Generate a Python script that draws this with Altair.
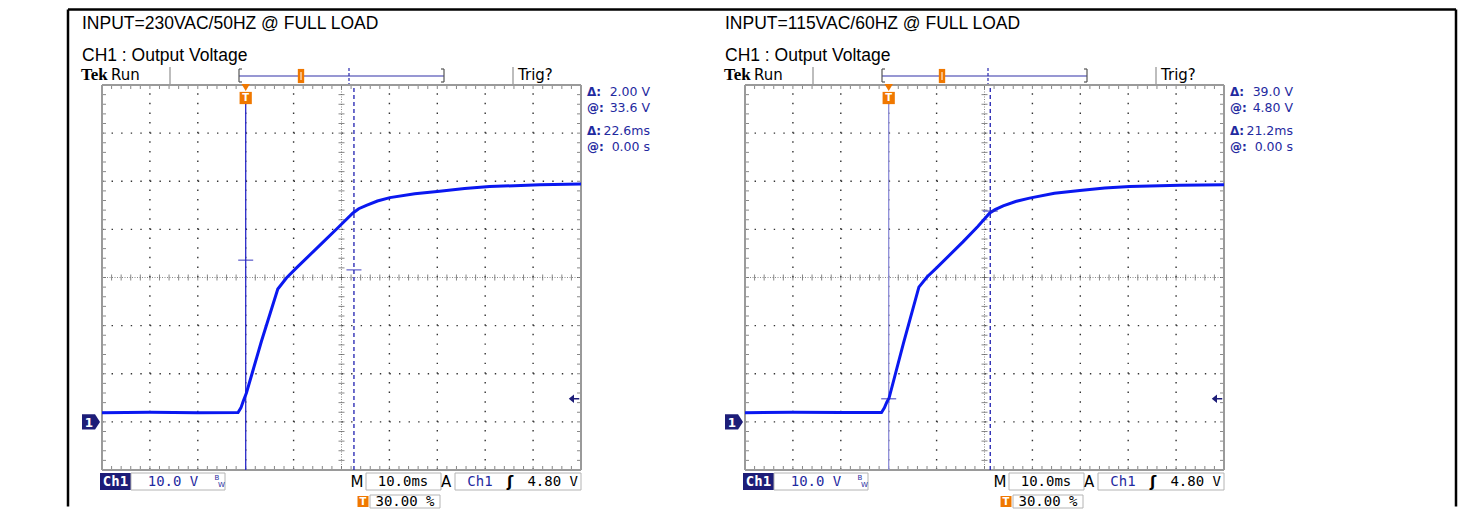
import altair as alt
import pandas as pd

# ---------------- values ----------------
panel_titles = ["INPUT=230VAC/50HZ @ FULL LOAD", "INPUT=115VAC/60HZ @ FULL LOAD"]
channel_title = "CH1 : Output Voltage"

# Ch1 trace: time in ms (0 = trigger point), output voltage in V
left_t = [-30, -20, -10, -1.6, -1.0, -0.5, 0.15, 3.3, 6.7, 8.5, 10.6, 16.1, 19.3, 22.4, 23.6, 25.2, 27.5, 30.1, 35.3, 40.5, 45.7, 50.9, 61.4, 70]
left_v = [1.9, 2.0, 1.9, 1.95, 2.9, 4.35, 6.0, 16.8, 27.6, 29.9, 32.0, 37.3, 40.4, 43.4, 44.3, 45.0, 45.9, 46.6, 47.4, 47.9, 48.5, 48.9, 49.25, 49.45]
right_t = [-30, -20, -10, -1.5, -0.9, -0.4, 0.06, 3.1, 6.3, 8.0, 10.0, 15.5, 18.6, 21.1, 22.2, 23.9, 26.5, 29.4, 34.6, 39.9, 45.1, 50.3, 60.8, 70]
right_v = [1.9, 2.0, 1.95, 1.95, 2.9, 4.1, 4.9, 16.4, 28.0, 30.1, 32.0, 37.4, 40.6, 43.4, 44.1, 44.9, 45.8, 46.5, 47.5, 48.1, 48.6, 48.9, 49.15, 49.25]

cursor_t1 = [0.0, 0.0]
cursor_t2 = [22.6, 21.2]
cursor_v1 = [33.6, 4.80]
cursor_v2 = [31.6, 43.8]
readout_labels = ["\u0394:", "@:", "\u0394:", "@:"]
readout_values = [["2.00 V", "33.6 V", "22.6ms", "0.00 s"],
                  ["39.0 V", "4.80 V", "21.2ms", "0.00 s"]]
volts_div = "10.0 V"
time_div = "10.0ms"
trig_source = "Ch1"
trig_level_txt = "4.80 V"
trig_level = 4.80
trig_pos = "30.00 %"

# ---------------- layout (pixels relative to each graticule) ----------------
W, H = 479, 385
T_DOM = [-30, 70]     # 10 ms/div, trigger at 30 %
V_DOM = [-10, 70]     # 10 V/div, ground one division above bottom
SPACING = 164
BLUE_TXT = "#1f2aa0"
NAVY = "#1d1d78"
ORANGE = "#f07800"
TRACE = "#0a18f0"
MONO = "DejaVu Sans Mono"
SANS = "DejaVu Sans"
HEAD = "Liberation Sans, Arial, sans-serif"


def tp(px):
    return T_DOM[0] + px * (T_DOM[1] - T_DOM[0]) / W


def vp(py):
    return V_DOM[1] - py * (V_DOM[1] - V_DOM[0]) / H


XS = alt.Scale(domain=T_DOM, nice=False, zero=False)
YS = alt.Scale(domain=V_DOM, nice=False, zero=False)


def enc(ch, x2=False, y2=False, **extra):
    e = dict(x=alt.X("t", type="quantitative", scale=XS, axis=None),
             y=alt.Y("v", type="quantitative", scale=YS, axis=None))
    if x2:
        e["x2"] = alt.X2("t2")
    if y2:
        e["y2"] = alt.Y2("v2")
    e.update(extra)
    return ch.encode(**e)


def text_px(items, **style):
    df = pd.DataFrame([{"t": tp(a), "v": vp(b), "label": s} for a, b, s in items])
    return enc(alt.Chart(df).mark_text(**style), text=alt.Text("label:N"))


def rect_px(boxes, **style):
    df = pd.DataFrame([{"t": tp(a), "v": vp(b), "t2": tp(c), "v2": vp(d)} for a, b, c, d in boxes])
    return enc(alt.Chart(df).mark_rect(**style), x2=True, y2=True)


def rule_px(lines, **style):
    df = pd.DataFrame([{"t": tp(a), "v": vp(b), "t2": tp(c), "v2": vp(d)} for a, b, c, d in lines])
    return enc(alt.Chart(df).mark_rule(**style), x2=True, y2=True)


def rule_data(lines, **style):
    df = pd.DataFrame([{"t": a, "v": b, "t2": c, "v2": d} for a, b, c, d in lines])
    return enc(alt.Chart(df).mark_rule(**style), x2=True, y2=True)


def point_at(pts, **style):
    df = pd.DataFrame([{"t": a, "v": b} for a, b in pts])
    return enc(alt.Chart(df).mark_point(**style))


def ticks_at(pts, **style):
    df = pd.DataFrame([{"t": a, "v": b} for a, b in pts])
    return enc(alt.Chart(df).mark_tick(**style))


orange_bar_x = [199, 197]
dash_bar_x = [247, 243]
solid_cursor_col = ["#2a2ac8", "#8c8cd8"]


def panel(i):
    L = []
    tr_t, tr_v = (left_t, left_v) if i == 0 else (right_t, right_v)
    if i == 0:
        L.append(rect_px([(-94, -77, 1355, 423)], color="white"))
        L.append(rule_px([(-34, -75.5, -34, 421.5), (1354, -75.5, 1354, 421.5), (-34, -75.5, 1354, -75.5)],
                         color="black", strokeWidth=2.5))
    # headings
    L.append(text_px([(-20, -56, panel_titles[i]), (-20, -24, channel_title)],
                     font=HEAD, fontSize=17.5, align="left", baseline="alphabetic", color="black"))
    # status line above the graticule
    L.append(text_px([(-21, -5, "Tek")], font="Liberation Serif", fontWeight="bold", fontSize=17,
                     align="left", baseline="alphabetic", color="black"))
    L.append(text_px([(9, -5, "Run"), (416, -5, "Trig?")], font=SANS, fontSize=15,
                     align="left", baseline="alphabetic", color="black"))
    L.append(rule_px([(68, -18, 68, -1), (411, -18, 411, -1)], color="#bdbdbd", strokeWidth=2))
    L.append(rule_px([(137, -9, 342, -9)], color="#7474c4", strokeWidth=1.6))
    L.append(rule_px([(137, -16, 137, -3), (137, -16, 140, -16), (137, -3, 140, -3),
                      (342, -16, 342, -3), (339, -16, 342, -16), (339, -3, 342, -3)],
                     color="#555555", strokeWidth=1.2))
    L.append(rule_px([(dash_bar_x[i], -17, dash_bar_x[i], -1)], color="#2a2ab0", strokeWidth=1.2,
                     strokeDash=[3, 2]))
    L.append(point_at([(tp(orange_bar_x[i]), vp(-9))], shape="M-0.45,-1L0.45,-1L0.45,1L-0.45,1Z",
                      size=200, filled=True, color=ORANGE, opacity=1, strokeWidth=0))
    L.append(rule_px([(orange_bar_x[i], -13, orange_bar_x[i], -5)], color="white", strokeWidth=1))

    # graticule
    gt = [T_DOM[0] + 10 * k for k in range(1, 10) if k != 5]
    gv = [V_DOM[0] + 10 * k for k in range(1, 8) if k != 4]
    L.append(rule_data([(t, V_DOM[0], t, V_DOM[1]) for t in gt], color="#333333", strokeWidth=1.4,
                       strokeDash=[1.4, H / 40 - 1.4]))
    L.append(rule_data([(T_DOM[0], v, T_DOM[1], v) for v in gv], color="#333333", strokeWidth=1.4,
                       strokeDash=[1.4, W / 50 - 1.4]))
    tc, vc = 20, 30
    L.append(rule_data([(tc, V_DOM[0], tc, V_DOM[1]), (T_DOM[0], vc, T_DOM[1], vc)],
                       color="#8a8a8a", strokeWidth=1, strokeDash=[1, 1.5]))
    sub_t = [T_DOM[0] + 2 * k for k in range(51)]
    sub_v = [V_DOM[0] + 2 * k for k in range(41)]
    L.append(ticks_at([(t, vc) for t in sub_t], orient="vertical", size=6, thickness=1, color="#555555"))
    L.append(ticks_at([(tc, v) for v in sub_v], orient="horizontal", size=6, thickness=1, color="#555555"))
    L.append(ticks_at([(t, V_DOM[1]) for t in sub_t], orient="vertical", size=4, thickness=1,
                      color="#555555", yOffset=2))
    L.append(ticks_at([(t, V_DOM[0]) for t in sub_t], orient="vertical", size=4, thickness=1,
                      color="#555555", yOffset=-2))
    L.append(ticks_at([(T_DOM[0], v) for v in sub_v], orient="horizontal", size=4, thickness=1,
                      color="#555555", xOffset=2))
    L.append(ticks_at([(T_DOM[1], v) for v in sub_v], orient="horizontal", size=4, thickness=1,
                      color="#555555", xOffset=-2))
    L.append(rule_data([(T_DOM[0], V_DOM[0], T_DOM[1], V_DOM[0]), (T_DOM[0], V_DOM[1], T_DOM[1], V_DOM[1]),
                        (T_DOM[0], V_DOM[0], T_DOM[0], V_DOM[1]), (T_DOM[1], V_DOM[0], T_DOM[1], V_DOM[1])],
                       color="#9a9a9a", strokeWidth=2))

    # cursors
    L.append(rule_data([(cursor_t1[i], V_DOM[0], cursor_t1[i], vp(19))], color=solid_cursor_col[i], strokeWidth=1.3))
    L.append(rule_data([(cursor_t2[i], V_DOM[0], cursor_t2[i], V_DOM[1])], color="#2020b0", strokeWidth=1.3,
                       strokeDash=[4, 3]))
    # trace
    tr = pd.DataFrame({"t": tr_t, "v": tr_v})
    L.append(enc(alt.Chart(tr).mark_line(color=TRACE, strokeWidth=3)))
    # cursor level marks
    L.append(ticks_at([(cursor_t1[i], cursor_v1[i]), (cursor_t2[i], cursor_v2[i])], orient="horizontal",
                      size=15, thickness=1.3, color="#2424b8"))

    # trigger marker, ground marker, trigger level arrow
    L.append(point_at([(0, vp(2.5))], shape="triangle-down", size=70, filled=True, color=ORANGE,
                      opacity=1, strokeWidth=0))
    L.append(point_at([(0, vp(13))], shape="square", size=150, filled=True, color=ORANGE, opacity=1,
                      strokeWidth=0))
    L.append(enc(alt.Chart(pd.DataFrame({"t": [0], "v": [vp(13)], "label": ["T"]})).mark_text(
        font=SANS, fontWeight="bold", fontSize=10, color="white", baseline="middle", align="center"),
        text=alt.Text("label:N")))
    L.append(point_at([(tp(-11), 0)], shape="M-1,-0.85L0.45,-0.85L1,0L0.45,0.85L-1,0.85Z", size=324,
                      filled=True, color=NAVY, opacity=1, strokeWidth=0))
    L.append(text_px([(-13, 337.5, "1")], font=SANS, fontWeight="bold", fontSize=12, color="white",
                     align="center", baseline="middle"))
    L.append(point_at([(tp(472), trig_level)],
                      shape="M-1,0L0,-0.8L0,0.8Z M0,-0.15L1,-0.15L1,0.15L0,0.15Z", size=110,
                      filled=True, color=NAVY, opacity=1, strokeWidth=0))

    # cursor readouts
    rows = [7, 23, 46, 62]
    L.append(text_px([(485, y, s) for y, s in zip(rows, readout_labels)], font=SANS, fontSize=12,
                     fontWeight="bold", color=BLUE_TXT, align="left", baseline="middle"))
    L.append(text_px([(548, y, s) for y, s in zip(rows, readout_values[i])], font=SANS, fontSize=12.5,
                     color=BLUE_TXT, align="right", baseline="middle"))

    # bottom status bar
    L.append(rect_px([(-2, 388, 29, 405)], color=NAVY))
    L.append(rect_px([(29, 388, 123, 405), (264, 388, 339, 405), (353, 388, 479, 405), (268, 410, 338, 423)],
                     fill="white", stroke="#b4b4b4", strokeWidth=1))
    L.append(text_px([(13.5, 397, "Ch1")], font=MONO, fontWeight="bold", fontSize=14, color="white",
                     align="center", baseline="middle"))
    L.append(text_px([(71, 397, volts_div), (378, 397, trig_source)], font=MONO, fontSize=14,
                     color=BLUE_TXT, align="center", baseline="middle"))
    L.append(text_px([(115, 393, "B"), (119.5, 400, "W")], font=SANS, fontSize=7, color=BLUE_TXT,
                     align="center", baseline="middle"))
    L.append(text_px([(255, 397, "M"), (344, 397, "A")], font=SANS, fontSize=15, color="black",
                     align="center", baseline="middle"))
    L.append(text_px([(301, 397, time_div), (303, 416.5, trig_pos)], font=MONO, fontSize=14,
                     color="black", align="center", baseline="middle"))
    L.append(text_px([(476, 397, trig_level_txt)], font=MONO, fontSize=14, color="black",
                     align="right", baseline="middle"))
    L.append(text_px([(408, 397, "\u0283")], font=SANS, fontWeight="bold", fontSize=15, color="black",
                     align="center", baseline="middle"))
    L.append(point_at([(tp(261), vp(416.5))], shape="square", size=121, filled=True, color=ORANGE,
                      opacity=1, strokeWidth=0))
    L.append(text_px([(261, 417, "T")], font=SANS, fontWeight="bold", fontSize=10, color="white",
                     align="center", baseline="middle"))

    return alt.layer(*L).properties(width=W, height=H)


chart = alt.hconcat(panel(0), panel(1), spacing=SPACING, bounds="flush").properties(
    padding=0
).configure_view(stroke=None)

chart.save("out.html", embed_options={"renderer": "svg", "actions": False})
